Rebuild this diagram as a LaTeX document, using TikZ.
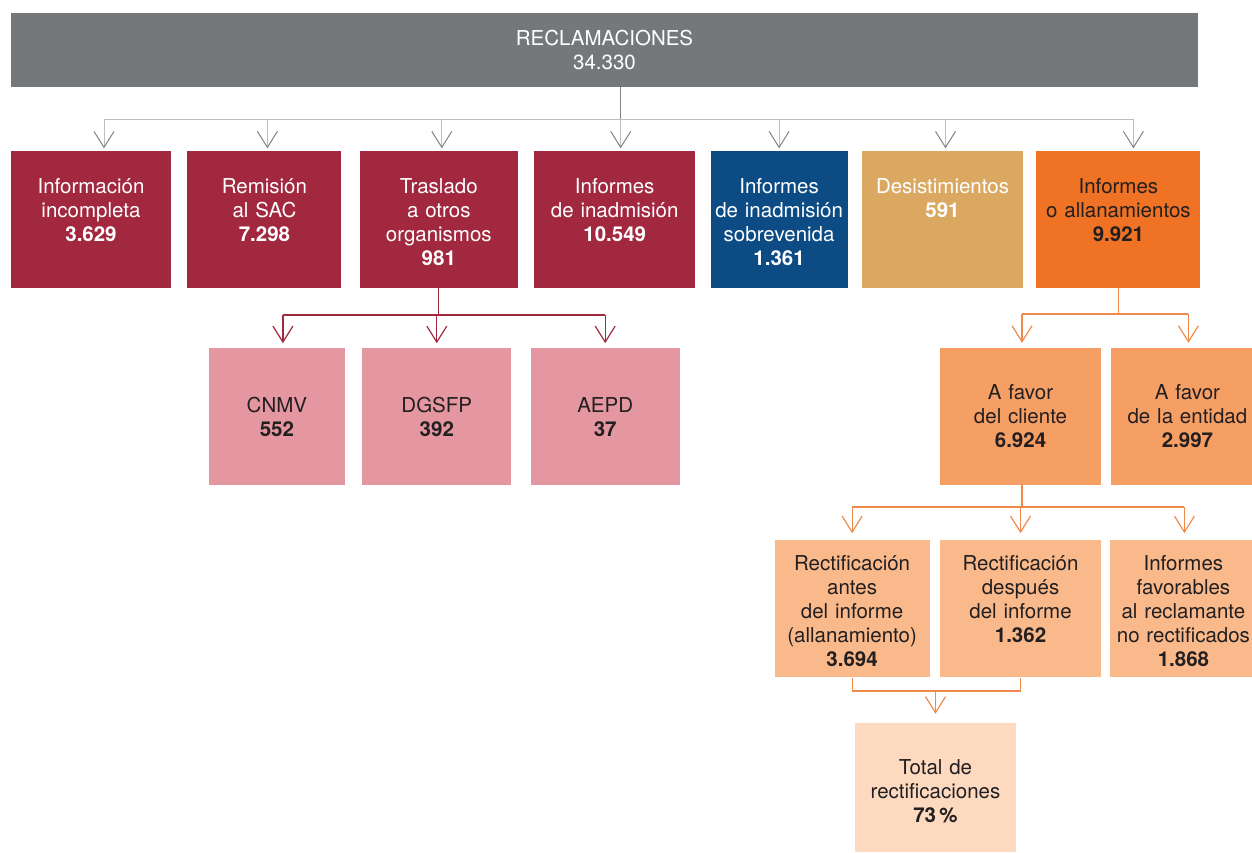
\documentclass[tikz,border=0pt]{standalone}
\usepackage{fontspec}
\setmainfont{TeX Gyre Heros}
\usepackage{xcolor}
\usetikzlibrary{positioning,arrows.meta}

\definecolor{headgray}{HTML}{75787B}
\definecolor{lineGray}{HTML}{BCBEC0}
\definecolor{tipGray}{HTML}{808285}
\definecolor{wine}{HTML}{A1283F}
\definecolor{rose}{HTML}{E497A0}
\definecolor{navy}{HTML}{0D4B85}
\definecolor{sand}{HTML}{DBA862}
\definecolor{orangeA}{HTML}{F07325}
\definecolor{orangeB}{HTML}{F69F65}
\definecolor{orangeC}{HTML}{F9B98B}
\definecolor{orangeD}{HTML}{FCD9BF}
\definecolor{orangeLine}{HTML}{F08A4B}
\definecolor{ink}{HTML}{231F20}

\begin{document}
\begin{tikzpicture}[
    x=1pt, y=-1pt,
    node distance=16pt,
    box/.style={rectangle, inner sep=0pt, align=center, text=ink, font=\fontsize{20.5}{24}\selectfont},
    cat/.style={box, text=white, text height=42pt, text depth=95pt},
    sub/.style={box, minimum height=137pt},
    res/.style={box, fill=orangeC, text height=30pt, text depth=107pt},
    gline/.style={draw=lineGray, line width=1pt},
    garrow/.style={gline, -{Straight Barb[length=16pt, width=20pt, color=tipGray]}, shorten >=2.5pt},
    rline/.style={draw=wine, line width=1.2pt},
    rarrow/.style={rline, -{Straight Barb[length=16pt, width=20pt]}, shorten >=5pt},
    oline/.style={draw=orangeLine, line width=1.2pt},
    oarrow/.style={oline, -{Straight Barb[length=16pt, width=20pt]}}
]
\useasboundingbox (0,0) rectangle (1252,852);

% Top box
\node[box, fill=headgray, text=white, minimum width=1187pt, minimum height=74pt] (recl) at (604.5,50) {RECLAMACIONES\\34.330};

% First row
\node[cat, fill=wine, text width=160pt] (info) at (91,219.5) {Información\\incompleta\\\textbf{3.629}};
\node[cat, fill=wine, text width=154pt, right=16pt of info] (remi) {Remisión\\al SAC\\\textbf{7.298}};
\node[cat, fill=wine, text width=158pt, right=18pt of remi] (tras) {Traslado\\a otros\\organismos\\\textbf{981}};
\node[cat, fill=wine, text width=161pt, right=16pt of tras] (inad) {Informes\\de inadmisión\\\textbf{10.549}};
\node[cat, fill=navy, text width=137pt, right=15pt of inad] (sobre) {Informes\\de inadmisión\\sobrevenida\\\textbf{1.361}};
\node[cat, fill=sand, text width=161pt, right=14pt of sobre] (desist) {Desistimientos\\\textbf{591}};
\node[cat, fill=orangeA, text=ink, text width=164pt, right=13pt of desist] (allan) {Informes\\o allanamientos\\\textbf{9.921}};

% Other bodies
\node[sub, fill=rose, text width=149pt, below=60pt of tras, xshift=-2pt] (dgsfp) {DGSFP\\\textbf{392}};
\node[sub, fill=rose, text width=136pt, left=17pt of dgsfp] (cnmv) {CNMV\\\textbf{552}};
\node[sub, fill=rose, text width=149pt, right=19pt of dgsfp] (aepd) {AEPD\\\textbf{37}};

% Reports
\node[sub, fill=orangeB, text width=161pt] (cliente) at (1020.5,416.5) {A favor\\del cliente\\\textbf{6.924}};
\node[sub, fill=orangeB, text width=152pt, right=10pt of cliente] (entidad) {A favor\\de la entidad\\\textbf{2.997}};

% Rectifications
\node[res, text width=161pt, below=55pt of cliente] (recb) {Rectificación\\después\\del informe\\\textbf{1.362}};
\node[res, text width=155pt, left=10pt of recb] (reca) {Rectificación\\antes\\del informe\\(allanamiento)\\\textbf{3.694}};
\node[res, text width=146pt, right=9pt of recb] (recc) {Informes\\favorables\\al reclamante\\no rectificados\\\textbf{1.868}};
\node[box, fill=orangeD, text width=161pt, text height=51pt, text depth=78pt] (total) at (935.5,787.5) {Total de\\rectificaciones\\\textbf{73\,\%}};

% Gray connectors
\coordinate (gbus) at (0,119);
\draw[draw=tipGray, line width=1pt] ([xshift=6pt]recl.south -| inad.north) -- ([xshift=6pt]inad.north |- gbus);
\draw[gline] ([xshift=13pt]info.north |- gbus) -- ([xshift=15pt]allan.north |- gbus);
\foreach \n/\dx in {info/13, remi/3, tras/3, inad/6, sobre/0, desist/3, allan/15}
    \draw[garrow] ([xshift=\dx pt]\n.north |- gbus) -- ([xshift=\dx pt]\n.north);

% Wine connectors
\coordinate (rbus) at (0,315);
\draw[rline] (tras.south) -- (tras.south |- rbus);
\draw[rline] ([xshift=6pt]cnmv.north |- rbus) -- (aepd.north |- rbus);
\foreach \n/\dx in {cnmv/6, dgsfp/0, aepd/0}
    \draw[rarrow] ([xshift=\dx pt]\n.north |- rbus) -- ([xshift=\dx pt]\n.north);

% Orange connectors
\coordinate (obus) at (0,314);
\draw[oline] (allan.south) -- (allan.south |- obus);
\draw[oline] ([xshift=1.5pt]cliente.north |- obus) -- ([xshift=1pt]entidad.north |- obus);
\foreach \n/\dx in {cliente/1.5, entidad/1}
    \draw[oarrow, shorten >=5pt] ([xshift=\dx pt]\n.north |- obus) -- ([xshift=\dx pt]\n.north);

\coordinate (pbus) at (0,507);
\draw[oline] ([xshift=1.5pt]cliente.south) -- ([xshift=1.5pt]cliente.south |- pbus);
\draw[oline] (reca.north |- pbus) -- ([xshift=1pt]recc.north |- pbus);
\foreach \n/\dx in {reca/0, recb/0, recc/1}
    \draw[oarrow, shorten >=7pt] ([xshift=\dx pt]\n.north |- pbus) -- ([xshift=\dx pt]\n.north);

\coordinate (qbus) at (0,691);
\draw[oline] (reca.south) -- (reca.south |- qbus) -- (recb.south |- qbus) -- (recb.south);
\draw[oarrow, shorten >=9pt] (total.north |- qbus) -- (total.north);

\end{tikzpicture}
\end{document}
